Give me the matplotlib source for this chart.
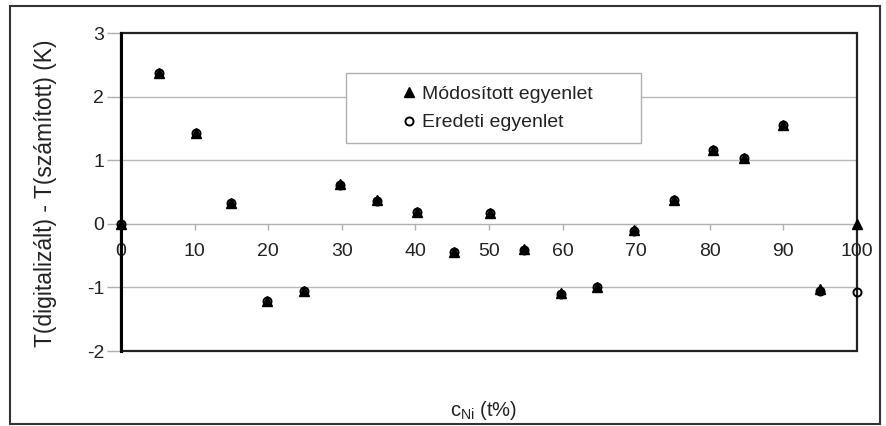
import matplotlib
matplotlib.use("Agg")
import matplotlib.pyplot as plt
from matplotlib.patches import Rectangle

plt.rcParams['font.family'] = ['Liberation Sans', 'DejaVu Sans']
plt.rcParams['mathtext.fontset'] = 'custom'
plt.rcParams['mathtext.rm'] = 'Liberation Sans'
plt.rcParams['axes.unicode_minus'] = False

# data
x_mod = [0, 5.1, 10.2, 14.9, 19.9, 24.9, 29.8, 34.8, 40.2, 45.2, 50.1, 54.8, 59.8, 64.7, 69.7, 75.1, 80.4, 84.6, 90.0, 95.0, 100]
y_mod = [0.0, 2.37, 1.43, 0.33, -1.21, -1.06, 0.62, 0.37, 0.19, -0.44, 0.17, -0.40, -1.09, -0.99, -0.10, 0.38, 1.16, 1.04, 1.56, -1.03, 0.0]
x_ered = [0, 5.1, 10.2, 14.9, 19.9, 24.9, 29.8, 34.8, 40.2, 45.2, 50.1, 54.8, 59.8, 64.7, 69.7, 75.1, 80.4, 84.6, 90.0, 95.0, 100]
y_ered = [0.0, 2.37, 1.43, 0.33, -1.22, -1.06, 0.61, 0.36, 0.19, -0.45, 0.17, -0.41, -1.10, -1.00, -0.11, 0.38, 1.16, 1.03, 1.55, -1.06, -1.08]
x_ticks = [0, 10, 20, 30, 40, 50, 60, 70, 80, 90, 100]
y_ticks = [-2, -1, 0, 1, 2, 3]
label_mod = "Módosított egyenlet"
label_ered = "Eredeti egyenlet"
xlabel = r"c$_{\mathrm{Ni}}$ (t%)"
ylabel = "T(digitalizált) - T(számított) (K)"

W, H = 887, 426
AX_L, AX_R, AX_T, AX_B = 121, 857, 33, 351
fig = plt.figure(figsize=(W / 100, H / 100), dpi=100)
ax = fig.add_axes([AX_L / W, 1 - AX_B / H, (AX_R - AX_L) / W, (AX_B - AX_T) / H])


def px2ax(px, py):
    return (px - AX_L) / (AX_R - AX_L), (AX_B - py) / (AX_B - AX_T)


ax.set_xlim(0, 100)
ax.set_ylim(-2, 3)

# gridlines
for yv in [-1, 1, 2]:
    ax.axhline(yv, color='#b8b8b8', lw=1.0, zorder=0)

h_mod, = ax.plot(x_mod, y_mod, linestyle='none', marker='^', markersize=7.8,
                 color='black', label=label_mod, zorder=4, clip_on=False)
h_ered, = ax.plot(x_ered, y_ered, linestyle='none', marker='o', markersize=5.8,
                  markerfacecolor='none', markeredgecolor='black', markeredgewidth=1.4,
                  label=label_ered, zorder=5, clip_on=False)

# spines
ax.spines['bottom'].set_position(('data', 0))
ax.spines['bottom'].set_color('#b0b0b0')
ax.spines['bottom'].set_linewidth(1.0)
ax.spines['top'].set_visible(False)
ax.spines['right'].set_visible(False)
ax.spines['left'].set_color('black')
ax.spines['left'].set_linewidth(2.2)
ax.spines['left'].set_zorder(2)
ax.add_patch(Rectangle((0, 0), 1, 1, transform=ax.transAxes, fill=False,
                       edgecolor='#222222', lw=1.6, zorder=2, clip_on=False))

ax.set_xticks(x_ticks)
ax.set_yticks(y_ticks)
ax.tick_params(axis='x', direction='out', length=4.5, color='#b0b0b0', width=1,
               labelsize=14, labelcolor='#222222', pad=9)
ax.tick_params(axis='y', direction='out', length=10, color='#b0b0b0', width=1,
               labelsize=14, labelcolor='#222222', pad=2)

# legend box
bx0, by0 = px2ax(346, 143)
bx1, by1 = px2ax(641, 73)
ax.add_patch(Rectangle((bx0, by0), bx1 - bx0, by1 - by0, transform=ax.transAxes,
                       facecolor='white', edgecolor='#b0b0b0', lw=1.0, zorder=6))
lx, ly = px2ax(399, 108.5)
leg = ax.legend([h_mod, h_ered], [label_mod, label_ered],
                loc='center left', bbox_to_anchor=(lx, ly),
                frameon=False, fontsize=14, handlelength=1.0, handletextpad=0.2,
                borderpad=0, labelspacing=0.55, borderaxespad=0)
leg.set_zorder(7)
for t in leg.get_texts():
    t.set_color('#222222')

fig.text(46 / W, 1 - 193 / H, ylabel, rotation=90, ha='center', va='center',
         fontsize=16.5, color='#222222')
fig.text(484 / W, 1 - 410 / H, xlabel, ha='center', va='center',
         fontsize=14.5, color='#222222')

# figure border
fig.patches.append(Rectangle((10 / W, 2 / H), 870 / W, (420 - 2) / H,
                             transform=fig.transFigure, fill=False,
                             edgecolor='#333333', lw=1.5))

fig.savefig('out.png', dpi=100)
